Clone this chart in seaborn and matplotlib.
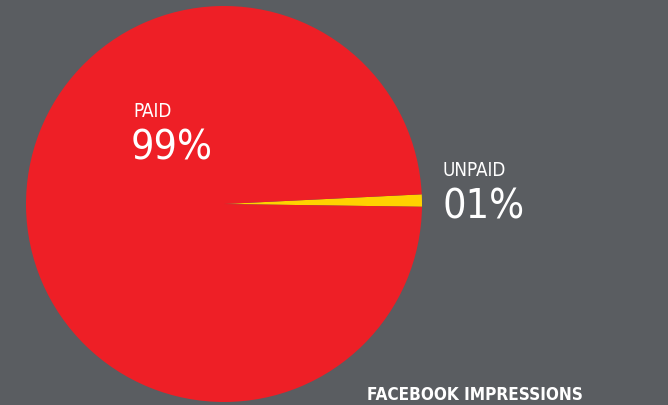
import matplotlib
matplotlib.use("Agg")
import matplotlib.pyplot as plt
import seaborn as sns

# Facebook impressions split
labels = ["PAID", "UNPAID"]
shares = [99, 1]
share_text = ["99%", "01%"]
title = "FACEBOOK IMPRESSIONS"

bg = "#5a5d61"
colors = ["#ee1f26", "#ffd200"]

sns.set_theme(style="white")
plt.rcParams["font.family"] = ["DejaVu Sans"]

fig = plt.figure(figsize=(6.68, 4.05), dpi=100, facecolor=bg)
# pie centre ~ (224, 204), radius ~198 px
ax = fig.add_axes([26 / 668, 3 / 405, 396 / 668, 396 / 405])
ax.set_facecolor(bg)
ax.pie(shares[::-1], colors=colors[::-1], startangle=-0.8,
       counterclock=True, radius=1.0,
       wedgeprops=dict(linewidth=0))
ax.set_xlim(-1, 1)
ax.set_ylim(-1, 1)
ax.set_aspect("equal")
ax.axis("off")

txt = dict(color="white", fontstretch="condensed", transform=fig.transFigure)
fig.text(133 / 668, 1 - 117 / 405, labels[0], fontsize=13.5, va="baseline", **txt)
fig.text(131 / 668, 1 - 160 / 405, share_text[0], fontsize=29.5, va="baseline", **txt)
fig.text(443 / 668, 1 - 176 / 405, labels[1], fontsize=13.5, va="baseline", **txt)
fig.text(442 / 668, 1 - 218 / 405, share_text[1], fontsize=29.5, va="baseline", **txt)
fig.text(367 / 668, 1 - 400 / 405, title, fontsize=12.3, fontweight="bold",
         va="baseline", **txt)

fig.savefig("out.png", dpi=100, facecolor=bg)
